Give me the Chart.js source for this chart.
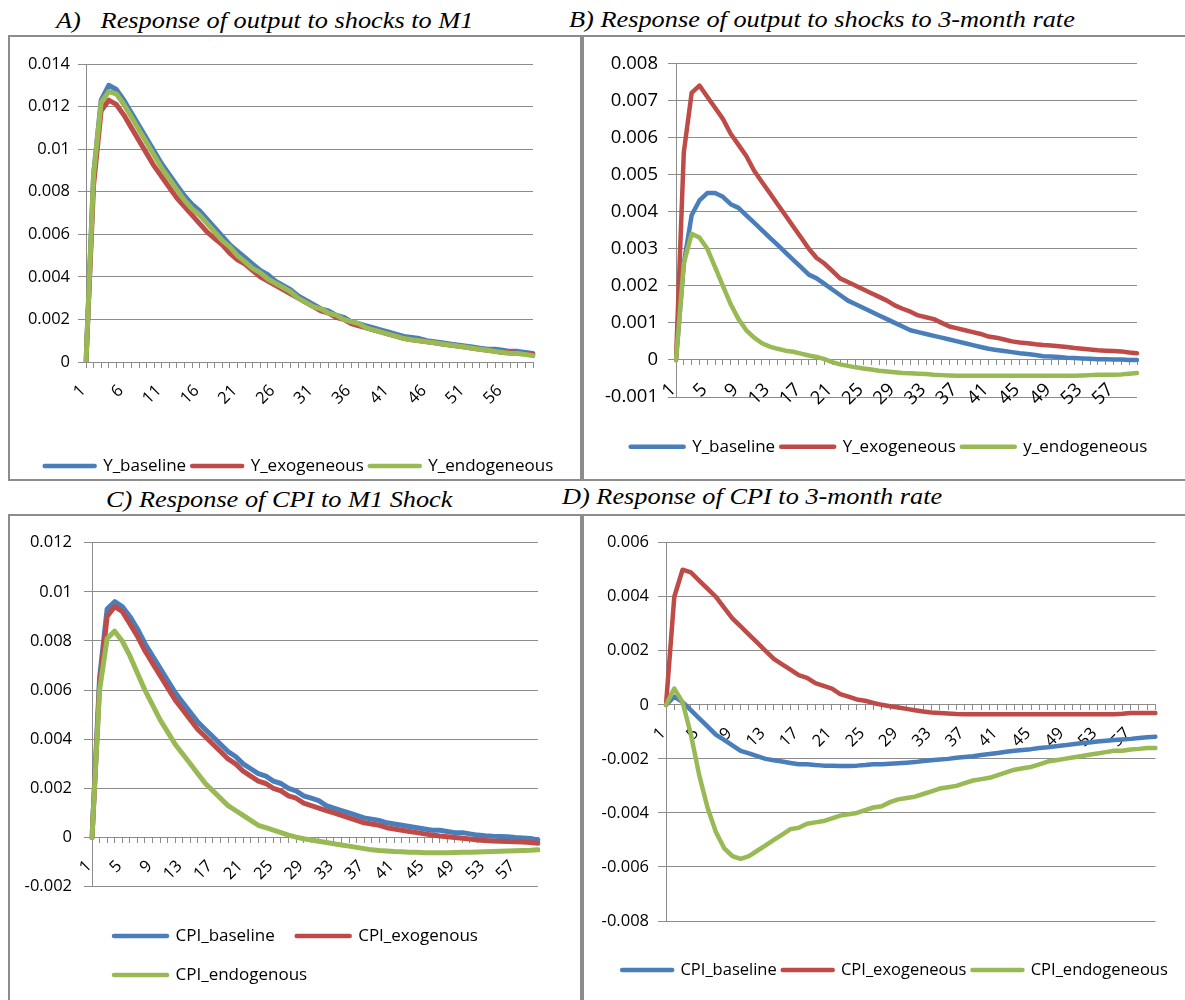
<!DOCTYPE html>
<html>
<head>
<meta charset="utf-8">
<script src="https://cdn.jsdelivr.net/npm/chart.js@4.4.0/dist/chart.umd.min.js"></script>
<style>
  html, body { margin: 0; padding: 0; background: #fff; overflow: hidden; width: 1185px; height: 1000px; }
  .box { position: absolute; border: 2px solid #8c8c8c; box-sizing: border-box; }
  .ttl { position: absolute; font-family: "Liberation Serif", "Times New Roman", serif; font-style: italic;
         font-size: 23.5px; line-height: 1; white-space: pre; color: #000;
         transform: scaleX(1.12); transform-origin: 0 0; }
  canvas { position: absolute; }
</style>
</head>
<body>
<div class="box" style="left:8px;top:35px;width:574px;height:446px"></div>
<div class="box" style="left:582px;top:35px;width:620px;height:446px"></div>
<div class="box" style="left:8px;top:514px;width:574px;height:500px"></div>
<div class="box" style="left:582px;top:514px;width:620px;height:500px"></div>

<div class="ttl" style="left:56px;top:8.6px">A)   Response of output to shocks to M1</div>
<div class="ttl" style="left:569px;top:7.6px">B) Response of output to shocks to 3-month rate</div>
<div class="ttl" style="left:106px;top:487.6px">C) Response of CPI to M1 Shock</div>
<div class="ttl" style="left:562px;top:485.3px">D) Response of CPI to 3-month rate</div>

<canvas id="chartA" width="576" height="448" style="left:11px;top:37px"></canvas>
<canvas id="chartB" width="610" height="429" style="left:584px;top:37px"></canvas>
<canvas id="chartC" width="568" height="477" style="left:11px;top:517px"></canvas>
<canvas id="chartD" width="622" height="472" style="left:584px;top:517px"></canvas>

<script>
// horizon (quarters after the shock)
const periods = ['1','2','3','4','5','6','7','8','9','10','11','12','13','14','15','16','17','18','19','20',
  '21','22','23','24','25','26','27','28','29','30','31','32','33','34','35','36','37','38','39','40',
  '41','42','43','44','45','46','47','48','49','50','51','52','53','54','55','56','57','58','59','60'];

// A) output, M1 shock
const yBaselineM1 = [0, 0.0088, 0.0123, 0.0130, 0.0128, 0.0123, 0.0117, 0.0111, 0.0105, 0.0099,
  0.0093, 0.0088, 0.0083, 0.0078, 0.0074, 0.0071, 0.0067, 0.0063, 0.0059, 0.0055,
  0.0052, 0.0049, 0.0046, 0.0043, 0.0041, 0.0038, 0.0036, 0.0034, 0.0031, 0.0029,
  0.0027, 0.0025, 0.0024, 0.0022, 0.0021, 0.0019, 0.0018, 0.0017, 0.0016, 0.0015,
  0.0014, 0.0013, 0.0012, 0.00115, 0.0011, 0.001, 0.00095, 0.0009, 0.00085, 0.0008,
  0.00075, 0.0007, 0.00065, 0.0006, 0.0006, 0.00055, 0.0005, 0.0005, 0.00045, 0.0004];
const yExoM1 = [0, 0.0083, 0.0118, 0.0123, 0.0121, 0.0116, 0.0110, 0.0104, 0.0098, 0.0092,
  0.0087, 0.0082, 0.0077, 0.0073, 0.0069, 0.0065, 0.0061, 0.0058, 0.0055, 0.0051,
  0.0048, 0.0046, 0.0043, 0.0040, 0.0038, 0.0036, 0.0034, 0.0032, 0.0030, 0.0028,
  0.0026, 0.0024, 0.0023, 0.0021, 0.0020, 0.0018, 0.0017, 0.0016, 0.0015, 0.0014,
  0.0013, 0.0012, 0.0011, 0.00105, 0.001, 0.00095, 0.0009, 0.00085, 0.0008, 0.00075,
  0.0007, 0.00065, 0.0006, 0.00055, 0.0005, 0.00045, 0.00045, 0.0004, 0.0004, 0.00035];
const yEndoM1 = [0, 0.0088, 0.0122, 0.0127, 0.0126, 0.0121, 0.0115, 0.0109, 0.0103, 0.0097,
  0.0091, 0.0086, 0.0081, 0.0076, 0.0072, 0.0069, 0.0065, 0.0061, 0.0057, 0.0054,
  0.0050, 0.0047, 0.0044, 0.0042, 0.0039, 0.0037, 0.0035, 0.0033, 0.0030, 0.0028,
  0.0026, 0.0025, 0.0023, 0.0022, 0.0020, 0.0019, 0.0018, 0.0016, 0.0015, 0.0014,
  0.0013, 0.0012, 0.0011, 0.00105, 0.001, 0.00095, 0.0009, 0.00085, 0.0008, 0.00075,
  0.0007, 0.00065, 0.0006, 0.00055, 0.0005, 0.00045, 0.0004, 0.0004, 0.00035, 0.0003];

// B) output, 3-month rate shock
const yBaselineRate = [0, 0.0026, 0.0039, 0.0043, 0.0045, 0.0045, 0.0044, 0.0042, 0.0041, 0.0039,
  0.0037, 0.0035, 0.0033, 0.0031, 0.0029, 0.0027, 0.0025, 0.0023, 0.0022, 0.00205,
  0.0019, 0.00175, 0.0016, 0.0015, 0.0014, 0.0013, 0.0012, 0.0011, 0.0010, 0.0009,
  0.0008, 0.00075, 0.0007, 0.00065, 0.0006, 0.00055, 0.0005, 0.00045, 0.0004, 0.00035,
  0.0003, 0.00027, 0.00024, 0.00021, 0.00018, 0.00016, 0.00013, 0.0001, 0.00009, 0.00008,
  0.00006, 0.00005, 0.00004, 0.00003, 0.00002, 0.00002, 0.00001, 0.00001, 0, 0];
const yExoRate = [0, 0.0056, 0.0072, 0.0074, 0.0071, 0.0068, 0.0065, 0.0061, 0.0058, 0.0055,
  0.0051, 0.0048, 0.0045, 0.0042, 0.0039, 0.0036, 0.0033, 0.0030, 0.00275, 0.0026,
  0.0024, 0.0022, 0.0021, 0.0020, 0.0019, 0.0018, 0.0017, 0.0016, 0.00147, 0.00138,
  0.0013, 0.0012, 0.00115, 0.0011, 0.001, 0.0009, 0.00085, 0.0008, 0.00075, 0.0007,
  0.00063, 0.0006, 0.00055, 0.0005, 0.00047, 0.00045, 0.00042, 0.0004, 0.00039, 0.00037,
  0.00035, 0.00032, 0.0003, 0.00028, 0.00026, 0.00025, 0.00024, 0.00023, 0.0002, 0.00018];
const yEndoRate = [0, 0.0026, 0.0034, 0.0033, 0.0030, 0.0025, 0.0020, 0.0015, 0.0011, 0.0008,
  0.0006, 0.00045, 0.00036, 0.0003, 0.00025, 0.00022, 0.00017, 0.00012, 0.00008, 0.00002,
  -0.00006, -0.00012, -0.00016, -0.0002, -0.00023, -0.00026, -0.00029, -0.00031, -0.00033, -0.00035,
  -0.00036, -0.00037, -0.00038, -0.0004, -0.00041, -0.00042, -0.00043, -0.00043, -0.00043, -0.00043,
  -0.00043, -0.00043, -0.00043, -0.00043, -0.00043, -0.00043, -0.00043, -0.00043, -0.00043, -0.00043,
  -0.00043, -0.00043, -0.00042, -0.00041, -0.0004, -0.0004, -0.0004, -0.00039, -0.00037, -0.00035];

// C) CPI, M1 shock
const cpiBaselineM1 = [0, 0.0065, 0.0093, 0.0096, 0.0094, 0.0090, 0.0085, 0.0079, 0.0074, 0.0069,
  0.0064, 0.0059, 0.0055, 0.0051, 0.0047, 0.0044, 0.0041, 0.0038, 0.0035, 0.0033,
  0.0030, 0.0028, 0.0026, 0.0025, 0.0023, 0.0022, 0.0020, 0.0019, 0.0017, 0.0016,
  0.0015, 0.0013, 0.0012, 0.0011, 0.0010, 0.0009, 0.0008, 0.00075, 0.0007, 0.0006,
  0.00055, 0.0005, 0.00045, 0.0004, 0.00035, 0.0003, 0.0003, 0.00025, 0.0002, 0.0002,
  0.00015, 0.0001, 0.00007, 0.00005, 0.00004, 0.00003, 0, -0.00002, -0.00004, -0.0001];
const cpiExoM1 = [0, 0.0062, 0.0090, 0.0094, 0.0092, 0.0087, 0.0082, 0.0076, 0.0071, 0.0066,
  0.0061, 0.0056, 0.0052, 0.0048, 0.0044, 0.0041, 0.0038, 0.0035, 0.0032, 0.0030,
  0.0027, 0.0025, 0.0023, 0.0022, 0.0020, 0.0019, 0.0017, 0.0016, 0.0014, 0.0013,
  0.0012, 0.0011, 0.0010, 0.0009, 0.0008, 0.0007, 0.0006, 0.00055, 0.0005, 0.0004,
  0.00035, 0.0003, 0.00025, 0.0002, 0.00015, 0.0001, 0.00006, 0.00003, 0, -0.00003,
  -0.00006, -0.0001, -0.00012, -0.00014, -0.00015, -0.00016, -0.00017, -0.00018, -0.0002, -0.00023];
const cpiEndoM1 = [0, 0.0060, 0.0081, 0.0084, 0.0080, 0.0074, 0.0067, 0.0060, 0.0054, 0.0048,
  0.0043, 0.0038, 0.0034, 0.0030, 0.0026, 0.0022, 0.0019, 0.0016, 0.0013, 0.0011,
  0.0009, 0.0007, 0.0005, 0.0004, 0.0003, 0.0002, 0.0001, 0.00002, -0.00005, -0.0001,
  -0.00015, -0.0002, -0.00025, -0.0003, -0.00035, -0.0004, -0.00045, -0.0005, -0.00053, -0.00055,
  -0.00057, -0.00058, -0.0006, -0.0006, -0.00062, -0.00062, -0.00062, -0.00062, -0.00061, -0.0006,
  -0.0006, -0.00059, -0.00058, -0.00057, -0.00056, -0.00055, -0.00054, -0.00053, -0.00052, -0.0005];

// D) CPI, 3-month rate shock
const cpiBaselineRate = [0, 0.0003, 0.0001, -0.0002, -0.0005, -0.0008, -0.0011, -0.0013, -0.0015, -0.0017,
  -0.0018, -0.0019, -0.002, -0.00205, -0.0021, -0.00215, -0.0022, -0.0022, -0.00223, -0.00225,
  -0.00225, -0.00226, -0.00226, -0.00225, -0.00223, -0.0022, -0.0022, -0.00218, -0.00216, -0.00214,
  -0.00212, -0.00208, -0.00205, -0.00202, -0.002, -0.00196, -0.00193, -0.0019, -0.00186, -0.00182,
  -0.00178, -0.00174, -0.0017, -0.00167, -0.00164, -0.0016, -0.00157, -0.00153, -0.0015, -0.00146,
  -0.00142, -0.00139, -0.00136, -0.00133, -0.0013, -0.00128, -0.00126, -0.00123, -0.0012, -0.00118];
const cpiExoRate = [0, 0.0040, 0.0050, 0.0049, 0.0046, 0.0043, 0.0040, 0.0036, 0.0032, 0.0029,
  0.0026, 0.0023, 0.0020, 0.0017, 0.0015, 0.0013, 0.0011, 0.0010, 0.0008, 0.0007,
  0.0006, 0.0004, 0.0003, 0.0002, 0.00015, 0.00007, 0, -0.00005, -0.0001, -0.00015,
  -0.0002, -0.00025, -0.00028, -0.0003, -0.00032, -0.00034, -0.00035, -0.00035, -0.00035, -0.00035,
  -0.00035, -0.00035, -0.00035, -0.00035, -0.00035, -0.00035, -0.00035, -0.00035, -0.00035, -0.00035,
  -0.00035, -0.00035, -0.00035, -0.00035, -0.00035, -0.00033, -0.0003, -0.0003, -0.0003, -0.0003];
const cpiEndoRate = [0, 0.0006, 0.0001, -0.0011, -0.0026, -0.0038, -0.0047, -0.0053, -0.0056, -0.0057,
  -0.0056, -0.0054, -0.0052, -0.0050, -0.0048, -0.0046, -0.00455, -0.0044, -0.00435, -0.0043,
  -0.0042, -0.0041, -0.00405, -0.004, -0.0039, -0.0038, -0.00375, -0.0036, -0.0035, -0.00345,
  -0.0034, -0.0033, -0.0032, -0.0031, -0.00305, -0.003, -0.0029, -0.0028, -0.00275, -0.0027,
  -0.0026, -0.0025, -0.0024, -0.00235, -0.0023, -0.0022, -0.0021, -0.00205, -0.002, -0.00195,
  -0.0019, -0.00185, -0.0018, -0.00175, -0.0017, -0.0017, -0.00165, -0.00163, -0.0016, -0.0016];

const blue = '#4A7EBB';
const red = '#BE4B48';
const green = '#98B954';
const axisGrey = '#8c8c8c';

function series(label, data, color, order, width) {
  return {
    label: label, data: data, borderColor: color, backgroundColor: color,
    borderWidth: width, pointRadius: 0, pointHoverRadius: 0, pointBorderWidth: width,
    tension: 0, borderJoinStyle: 'round', borderCapStyle: 'round',
    order: order, xAxisID: 'x', yAxisID: 'y'
  };
}

function legendItems(chart) {
  return Chart.defaults.plugins.legend.labels.generateLabels(chart).map(function (it) {
    it.lineWidth = 4.5;
    it.lineCap = 'round';
    it.pointStyle = 'line';
    return it;
  });
}

function drawPanel(id, p) {
  new Chart(document.getElementById(id), {
    type: 'line',
    data: { labels: periods, datasets: p.datasets },
    options: {
      responsive: false,
      animation: false,
      events: [],
      layout: { padding: { left: 0, right: 0, top: p.padTop, bottom: p.padBottom } },
      scales: {
        x: {
          type: 'category',
          position: { y: 0 },
          offset: false,
          grid: { display: true, drawOnChartArea: false, drawTicks: true, tickLength: 5, color: axisGrey },
          border: { display: true, color: axisGrey, width: 1 },
          ticks: {
            autoSkip: false, minRotation: 45, maxRotation: 45, padding: 14, labelOffset: -3,
            color: '#000', font: { family: 'Open Sans', size: p.tickSize },
            callback: function (v, i) { return i % p.every === 0 ? this.getLabelForValue(v) : ''; }
          }
        },
        y: {
          min: p.yMin, max: p.yMax,
          grid: { color: axisGrey, tickLength: 8, lineWidth: 1 },
          border: { display: true, color: axisGrey, width: 1 },
          ticks: {
            stepSize: p.yStep, padding: p.yTickPad, color: '#000',
            font: { family: 'Open Sans', size: p.tickSize },
            callback: function (v) { return String(parseFloat(Number(v).toFixed(4))); }
          },
          afterFit: function (s) { s.width = p.yWidth; }
        },
        xSpace: {
          type: 'category', position: 'bottom', display: true,
          grid: { display: false, drawTicks: false }, ticks: { display: false }, border: { display: false },
          afterFit: function (s) { s.height = p.xSpace; }
        },
        ySpace: {
          type: 'linear', position: 'right', display: true,
          grid: { display: false, drawTicks: false }, ticks: { display: false }, border: { display: false },
          afterFit: function (s) { s.width = p.ySpace; }
        }
      },
      plugins: {
        tooltip: { enabled: false },
        legend: {
          position: 'bottom',
          align: p.legendAlign,
          fullSize: p.legendFull,
          labels: {
            usePointStyle: true, pointStyle: 'line', pointStyleWidth: p.boxW,
            padding: p.legendPad, color: '#000',
            font: { family: 'Open Sans', size: p.legendSize },
            generateLabels: legendItems,
            sort: function (a, b) { return a.datasetIndex - b.datasetIndex; }
          }
        }
      }
    }
  });
}

drawPanel('chartA', {
  datasets: [series('Y_baseline', yBaselineM1, blue, 3, 5), series('Y_exogeneous', yExoM1, red, 2, 5), series('Y_endogeneous', yEndoM1, green, 1, 5)],
  yMin: 0, yMax: 0.014, yStep: 0.002, every: 5,
  padTop: 27, padBottom: 0.5, yWidth: 75, ySpace: 54, xSpace: 89.5,
  tickSize: 16.5, yTickPad: 8,
  legendSize: 17, legendPad: 6, boxW: 50, legendAlign: 'center', legendFull: true
});

drawPanel('chartB', {
  datasets: [series('Y_baseline', yBaselineRate, blue, 3, 4.5), series('Y_exogeneous', yExoRate, red, 2, 4.5), series('y_endogeneous', yEndoRate, green, 1, 4.5)],
  yMin: -0.001, yMax: 0.008, yStep: 0.001, every: 4,
  padTop: 26.3, padBottom: 0.8, yWidth: 92, ySpace: 57, xSpace: 35.2,
  tickSize: 18.5, yTickPad: 10,
  legendSize: 17, legendPad: 6, boxW: 53, legendAlign: 'center', legendFull: true
});

drawPanel('chartC', {
  datasets: [series('CPI_baseline', cpiBaselineM1, blue, 3, 5), series('CPI_exogenous', cpiExoM1, red, 2, 5), series('CPI_endogenous', cpiEndoM1, green, 1, 5)],
  yMin: -0.002, yMax: 0.012, yStep: 0.002, every: 4,
  padTop: 25.7, padBottom: 0.5, yWidth: 81, ySpace: 41, xSpace: 18.8,
  tickSize: 16.5, yTickPad: 12,
  legendSize: 17, legendPad: 22, boxW: 53, legendAlign: 'start', legendFull: false
});

drawPanel('chartD', {
  datasets: [series('CPI_baseline', cpiBaselineRate, blue, 3, 4.5), series('CPI_exogeneous', cpiExoRate, red, 2, 4.5), series('CPI_endogeneous', cpiEndoRate, green, 1, 4.5)],
  yMin: -0.008, yMax: 0.006, yStep: 0.002, every: 4,
  padTop: 25.7, padBottom: 0.75, yWidth: 82, ySpace: 50.5, xSpace: 34.75,
  tickSize: 16.5, yTickPad: 9,
  legendSize: 16.5, legendPad: 6, boxW: 50, legendAlign: 'center', legendFull: true
});
</script>
</body>
</html>
